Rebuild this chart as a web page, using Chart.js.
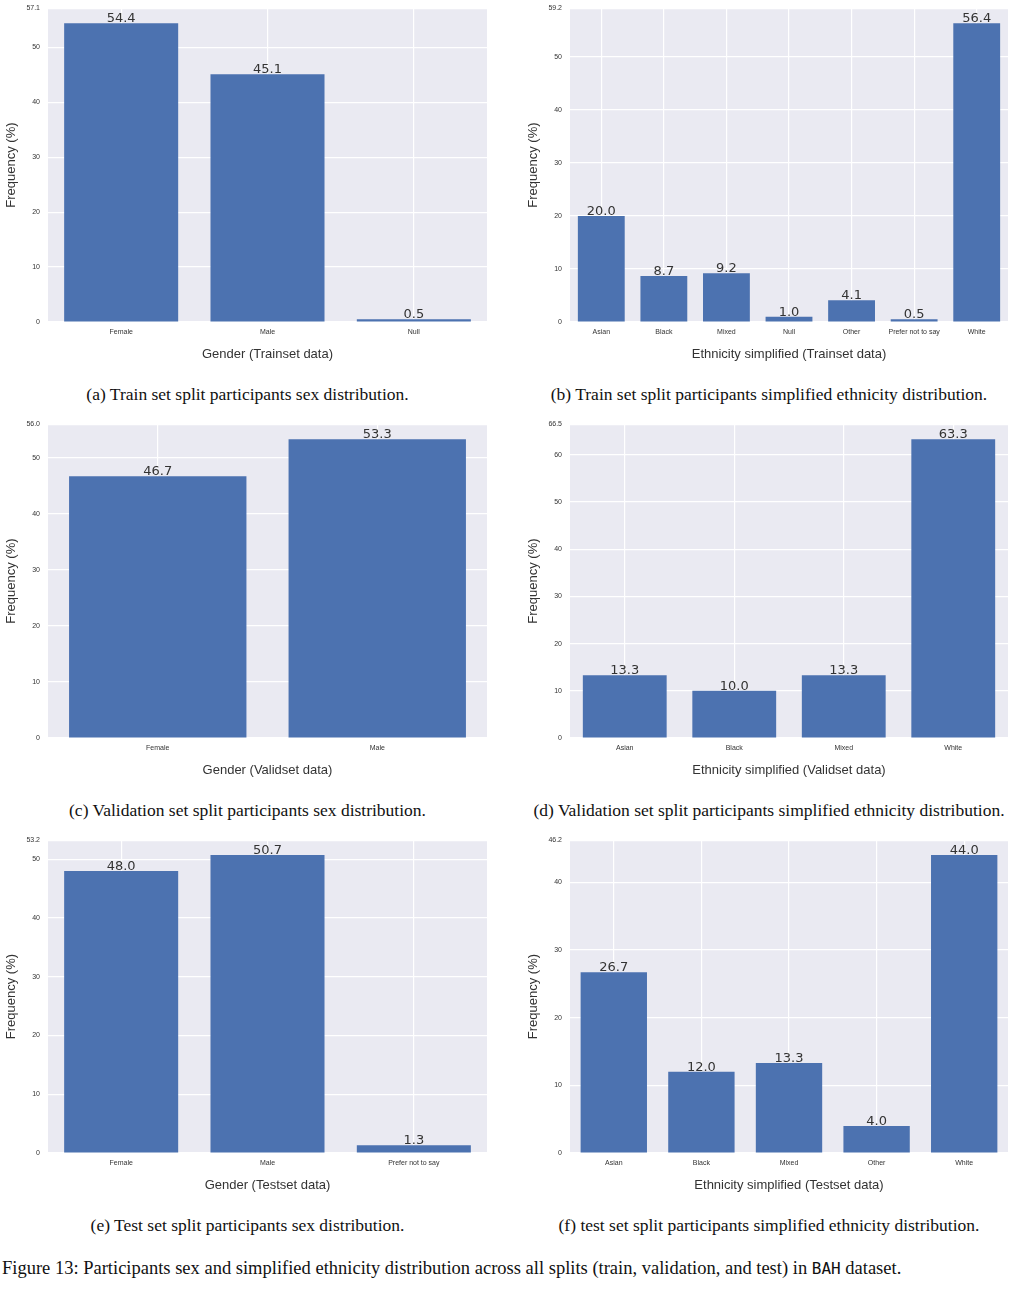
<!DOCTYPE html>
<html><head><meta charset="utf-8">
<script src="https://cdn.jsdelivr.net/npm/chart.js@4"></script>
<style>
body{margin:0;width:1020px;height:1295px;background:#fff;position:relative;overflow:hidden;font-family:"DejaVu Sans";}
.box{position:absolute;}
.cap{position:absolute;font-family:"Liberation Serif",serif;font-size:17.5px;color:#111;white-space:nowrap;transform:translateX(-50%);}
.fig{position:absolute;left:2px;top:1258px;font-family:"Liberation Serif",serif;font-size:18.5px;color:#111;white-space:nowrap;}
.fig code{font-family:"DejaVu Sans Mono",monospace;font-size:16px;}
</style></head><body>
<script>
const genderTrain=["Female","Male","Null"], genderTrainVals=[54.4,45.1,0.5];
const ethTrain=["Asian","Black","Mixed","Null","Other","Prefer not to say","White"], ethTrainVals=[20.0,8.7,9.2,1.0,4.1,0.5,56.4];
const genderVal=["Female","Male"], genderValVals=[46.7,53.3];
const ethVal=["Asian","Black","Mixed","White"], ethValVals=[13.3,10.0,13.3,63.3];
const genderTest=["Female","Male","Prefer not to say"], genderTestVals=[48.0,50.7,1.3];
const ethTest=["Asian","Black","Mixed","Other","White"], ethTestVals=[26.7,12.0,13.3,4.0,44.0];

const panels=[
 {l:48,t:8,w:439,h:314,cats:genderTrain,vals:genderTrainVals,xt:"Gender (Trainset data)",cap:"(a) Train set split participants sex distribution."},
 {l:570,t:8,w:438,h:314,cats:ethTrain,vals:ethTrainVals,xt:"Ethnicity simplified (Trainset data)",cap:"(b) Train set split participants simplified ethnicity distribution."},
 {l:48,t:424,w:439,h:314,cats:genderVal,vals:genderValVals,xt:"Gender (Validset data)",cap:"(c) Validation set split participants sex distribution."},
 {l:570,t:424,w:438,h:314,cats:ethVal,vals:ethValVals,xt:"Ethnicity simplified (Validset data)",cap:"(d) Validation set split participants simplified ethnicity distribution."},
 {l:48,t:840,w:439,h:313,cats:genderTest,vals:genderTestVals,xt:"Gender (Testset data)",cap:"(e) Test set split participants sex distribution."},
 {l:570,t:840,w:438,h:313,cats:ethTest,vals:ethTestVals,xt:"Ethnicity simplified (Testset data)",cap:"(f) test set split participants simplified ethnicity distribution."}
];
const bgPlugin={id:'bg',beforeDraw(c){const a=c.chartArea,x=c.ctx;x.save();x.fillStyle='#eaeaf2';x.fillRect(a.left,a.top,a.right-a.left,a.bottom-a.top);x.restore();}};
const lblPlugin={id:'lbl',afterDatasetsDraw(c){const x=c.ctx,m=c.getDatasetMeta(0),d=c.data.datasets[0].data;x.save();x.font='13px "DejaVu Sans"';x.fillStyle='#333';x.textAlign='center';x.textBaseline='bottom';m.data.forEach((b,i)=>x.fillText(d[i].toFixed(1),b.x,b.y+2));x.restore();}};
panels.forEach(p=>{
 const L=48,T=12,R=6,B=44;
 const div=document.createElement('div');div.className='box';
 div.style.left=(p.l-L)+'px';div.style.top=(p.t-T)+'px';div.style.width=(p.w+L+R)+'px';div.style.height=(p.h+T+B)+'px';
 const cv=document.createElement('canvas');div.appendChild(cv);document.body.appendChild(div);
 const cap=document.createElement('div');cap.className='cap';cap.textContent=p.cap;cap.style.left=(p.l+p.w/2-20)+'px';cap.style.top=(p.t+p.h+62)+'px';document.body.appendChild(cap);
 const n=p.cats.length;const unit=(n-1+0.8)*1.1/n;
 new Chart(cv,{type:'bar',data:{labels:p.cats,datasets:[{data:p.vals,backgroundColor:'#4c72b0',barPercentage:0.8/unit,categoryPercentage:1}]},
 plugins:[bgPlugin,lblPlugin],
 options:{responsive:true,maintainAspectRatio:false,animation:false,layout:{padding:{top:T,right:R,left:0,bottom:0}},
 plugins:{legend:{display:false},tooltip:{enabled:false}},
 scales:{
  x:{grid:{color:'#fff',lineWidth:1.2,offset:false,drawTicks:false},border:{display:false},
     ticks:{font:{size:7},color:'#333',padding:6,maxRotation:0},
     title:{display:true,text:p.xt,font:{size:13},color:'#333',padding:{top:2}},
     afterFit(s){s.height=B;}},
  y:{min:0,max:Math.max(...p.vals)*1.05,grid:{color:'#fff',lineWidth:1.2,drawTicks:false},border:{display:false},
     ticks:{stepSize:10,font:{size:7},color:'#333',padding:8},
     title:{display:true,text:'Frequency (%)',font:{size:13},color:'#333',padding:{bottom:4}},
     afterFit(s){s.width=L;}}
 }}});
});
</script>
<div class="fig">Figure 13: Participants sex and simplified ethnicity distribution across all splits (train, validation, and test) in <code>BAH</code> dataset.</div>
</body></html>
